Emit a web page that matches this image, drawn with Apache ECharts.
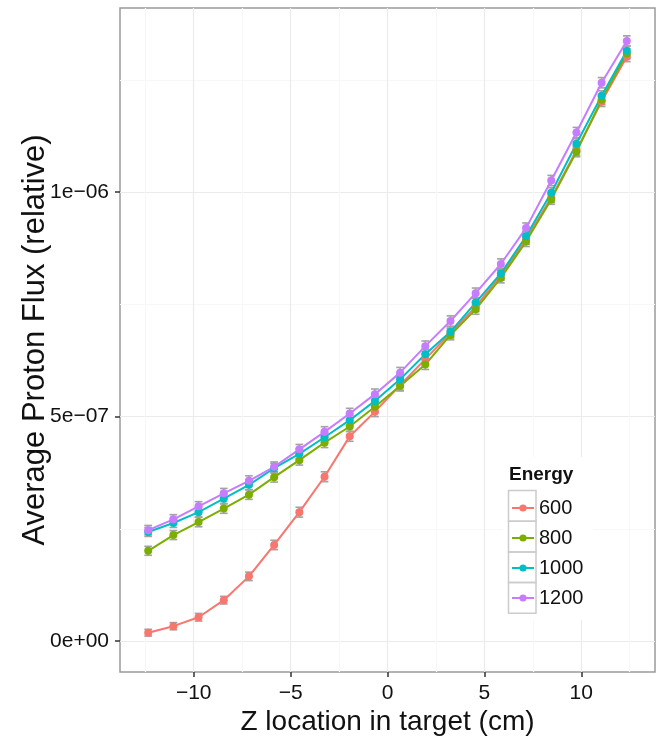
<!DOCTYPE html>
<html>
<head>
<meta charset="utf-8">
<script src="https://cdn.jsdelivr.net/npm/echarts@6/dist/echarts.min.js"></script>
<style>
  html, body { margin: 0; padding: 0; background: #fff; }
  #container { width: 659px; height: 738px; }
</style>
</head>
<body>
<div id="container"></div>
<script>
'use strict';
var dom = document.getElementById("container");
var myChart = echarts.init(dom);

// bin centres along the target (cm)
var zPos = [-12.35, -11.05, -9.75, -8.45, -7.15, -5.85, -4.55, -3.25, -1.95, -0.65,
            0.65, 1.95, 3.25, 4.55, 5.85, 7.15, 8.45, 9.75, 11.05, 12.35];

var energies = ['600', '800', '1000', '1200'];
var colors = ['#F8766D', '#7CAE00', '#00BFC4', '#C77CFF'];

var flux600 = [1.85e-8, 3.3e-8, 5.3e-8, 9.1e-8, 1.44e-7, 2.14e-7, 2.87e-7, 3.66e-7, 4.56e-7, 5.11e-7,
               5.70e-7, 6.28e-7, 6.86e-7, 7.45e-7, 8.15e-7, 8.95e-7, 9.88e-7, 1.093e-6, 1.202e-6, 1.302e-6];
var flux800 = [2.01e-7, 2.36e-7, 2.65e-7, 2.95e-7, 3.26e-7, 3.65e-7, 4.03e-7, 4.42e-7, 4.78e-7, 5.22e-7,
               5.68e-7, 6.16e-7, 6.82e-7, 7.39e-7, 8.09e-7, 8.90e-7, 9.84e-7, 1.090e-6, 1.206e-6, 1.309e-6];
var flux1000 = [2.43e-7, 2.63e-7, 2.87e-7, 3.17e-7, 3.48e-7, 3.85e-7, 4.17e-7, 4.54e-7, 4.92e-7, 5.35e-7,
                5.83e-7, 6.39e-7, 6.89e-7, 7.54e-7, 8.19e-7, 9.02e-7, 9.99e-7, 1.108e-6, 1.215e-6, 1.315e-6];
var flux1200 = [2.47e-7, 2.71e-7, 3.00e-7, 3.29e-7, 3.57e-7, 3.88e-7, 4.27e-7, 4.66e-7, 5.07e-7, 5.50e-7,
                5.98e-7, 6.57e-7, 7.13e-7, 7.75e-7, 8.40e-7, 9.20e-7, 1.026e-6, 1.133e-6, 1.244e-6, 1.337e-6];

// half height of the error bars
var err600 = [0.75e-8, 0.8e-8, 0.85e-8, 0.85e-8, 0.95e-8, 1.05e-8, 1.1e-8, 1.1e-8, 1.1e-8, 1.1e-8,
              1.1e-8, 1.1e-8, 1.1e-8, 1.1e-8, 1.1e-8, 1.1e-8, 1.1e-8, 1.1e-8, 1.1e-8, 1.1e-8];
var err800 = [1.0e-8, 1.0e-8, 1.05e-8, 1.05e-8, 1.05e-8, 1.1e-8, 1.1e-8, 1.1e-8, 1.1e-8, 1.1e-8,
              1.1e-8, 1.1e-8, 1.1e-8, 1.1e-8, 1.1e-8, 1.1e-8, 1.1e-8, 1.1e-8, 1.1e-8, 1.1e-8];
var err1000 = err800;
var err1200 = [1.05e-8, 1.05e-8, 1.05e-8, 1.1e-8, 1.1e-8, 1.1e-8, 1.1e-8, 1.15e-8, 1.15e-8, 1.15e-8,
               1.15e-8, 1.15e-8, 1.15e-8, 1.15e-8, 1.15e-8, 1.15e-8, 1.15e-8, 1.15e-8, 1.15e-8, 1.15e-8];

var xTicks = [-10, -5, 0, 5, 10];
var xMinor = [-12.5, -7.5, -2.5, 2.5, 7.5, 12.5];
var yTicks = [0, 5e-7, 1e-6];
var yTickLabels = ['0e+00', '5e\u221207', '1e\u221206'];
var yMinor = [2.5e-7, 7.5e-7, 1.25e-6];

var fluxes = [flux600, flux800, flux1000, flux1200];
var errs = [err600, err800, err1000, err1200];

var FONT = 'Liberation Sans, Arial, sans-serif';
var xRange = [-13.805, 13.805];
var yRange = [-6.91e-8, 1.4105e-6];

function errorBar(params, api) {
    var x = api.value(0);
    var lo = api.coord([x, api.value(1)]);
    var hi = api.coord([x, api.value(2)]);
    var left = api.coord([x - 0.2, api.value(1)])[0];
    var right = api.coord([x + 0.2, api.value(1)])[0];
    var st = { stroke: '#a3a3a3', lineWidth: 1.6 };
    return {
        type: 'group',
        children: [
            { type: 'line', shape: { x1: lo[0], y1: lo[1], x2: hi[0], y2: hi[1] }, style: st },
            { type: 'line', shape: { x1: left, y1: lo[1], x2: right, y2: lo[1] }, style: st },
            { type: 'line', shape: { x1: left, y1: hi[1], x2: right, y2: hi[1] }, style: st }
        ]
    };
}

var series = [];
energies.forEach(function (name, i) {
    series.push({
        name: name,
        type: 'line',
        z: 3,
        data: zPos.map(function (z, k) { return [z, fluxes[i][k]]; }),
        symbol: 'circle',
        symbolSize: 8,
        showSymbol: true,
        lineStyle: { color: colors[i], width: 2 },
        itemStyle: { color: colors[i] },
        animation: false
    });
});
energies.forEach(function (name, i) {
    series.push({
        name: 'err' + name,
        type: 'custom',
        z: 2,
        renderItem: errorBar,
        data: zPos.map(function (z, k) { return [z, fluxes[i][k] - errs[i][k], fluxes[i][k] + errs[i][k]]; }),
        animation: false
    });
});

function fmtX(v) { return v < 0 ? '\u2212' + (-v) : '' + v; }

var option = {
    animation: false,
    backgroundColor: '#fff',
    textStyle: { fontFamily: FONT },
    grid: {
        left: 120, top: 8, right: 4, bottom: 66,
        outerBoundsMode: 'none', containLabel: false,
        show: true, borderColor: '#9a9a9a', borderWidth: 1.5, backgroundColor: 'transparent'
    },
    xAxis: [{
        type: 'value', min: xRange[0], max: xRange[1],
        name: 'Z location in target (cm)', nameLocation: 'middle', nameGap: 36, nameMoveOverlap: false,
        nameTextStyle: { fontSize: 28, color: '#111', fontFamily: FONT },
        axisLine: { show: false, onZero: false },
        axisTick: { show: true, length: 5, customValues: xTicks, lineStyle: { color: '#333', width: 1.5 } },
        axisLabel: { customValues: xTicks, formatter: fmtX, margin: 11, fontSize: 21, color: '#111', fontFamily: FONT },
        splitLine: { show: true, lineStyle: { color: '#ebebeb', width: 1.2 } }
    }, {
        type: 'value', min: xRange[0], max: xRange[1], position: 'bottom',
        axisLine: { show: false, onZero: false },
        axisTick: { show: false, customValues: xMinor },
        axisLabel: { show: false, customValues: xMinor },
        splitLine: { show: true, lineStyle: { color: '#f7f7f7', width: 1.2 } }
    }],
    yAxis: [{
        type: 'value', min: yRange[0], max: yRange[1],
        name: 'Average Proton Flux (relative)', nameLocation: 'middle', nameGap: 69, nameMoveOverlap: false,
        nameTextStyle: { fontSize: 31, color: '#111', fontFamily: FONT },
        axisLine: { show: false, onZero: false },
        axisTick: { show: true, length: 5, customValues: yTicks, lineStyle: { color: '#333', width: 1.5 } },
        axisLabel: {
            customValues: yTicks, margin: 11, fontSize: 21, color: '#111', fontFamily: FONT,
            formatter: function (v) {
                var idx = yTicks.indexOf(v);
                return idx >= 0 ? yTickLabels[idx] : '';
            }
        },
        splitLine: { show: true, lineStyle: { color: '#ebebeb', width: 1.2 } }
    }, {
        type: 'value', min: yRange[0], max: yRange[1], position: 'left',
        axisLine: { show: false, onZero: false },
        axisTick: { show: false, customValues: yMinor },
        axisLabel: { show: false, customValues: yMinor },
        splitLine: { show: true, lineStyle: { color: '#f7f7f7', width: 1.2 } }
    }],
    legend: {
        data: energies,
        orient: 'vertical',
        left: 506, top: 493,
        itemWidth: 22, itemHeight: 9, itemGap: 10,
        textStyle: { fontSize: 20, color: '#111', fontFamily: FONT },
        selectedMode: false
    },
    graphic: [
        { type: 'rect', z: 3, shape: { x: 503, y: 457, width: 90, height: 163 }, style: { fill: '#fff' } },
        { type: 'text', z: 4, x: 509, y: 475, style: { text: 'Energy', font: 'bold 19px ' + FONT, fill: '#111', verticalAlign: 'middle' } },
        { type: 'rect', z: 4, shape: { x: 508.5, y: 490.5, width: 27.5, height: 30.7 }, style: { fill: 'none', stroke: '#cccccc', lineWidth: 1.5 } },
        { type: 'rect', z: 4, shape: { x: 508.5, y: 521.2, width: 27.5, height: 30.7 }, style: { fill: 'none', stroke: '#cccccc', lineWidth: 1.5 } },
        { type: 'rect', z: 4, shape: { x: 508.5, y: 551.9, width: 27.5, height: 30.7 }, style: { fill: 'none', stroke: '#cccccc', lineWidth: 1.5 } },
        { type: 'rect', z: 4, shape: { x: 508.5, y: 582.6, width: 27.5, height: 30.7 }, style: { fill: 'none', stroke: '#cccccc', lineWidth: 1.5 } }
    ],
    series: series
};
myChart.setOption(option);
</script>
</body>
</html>
